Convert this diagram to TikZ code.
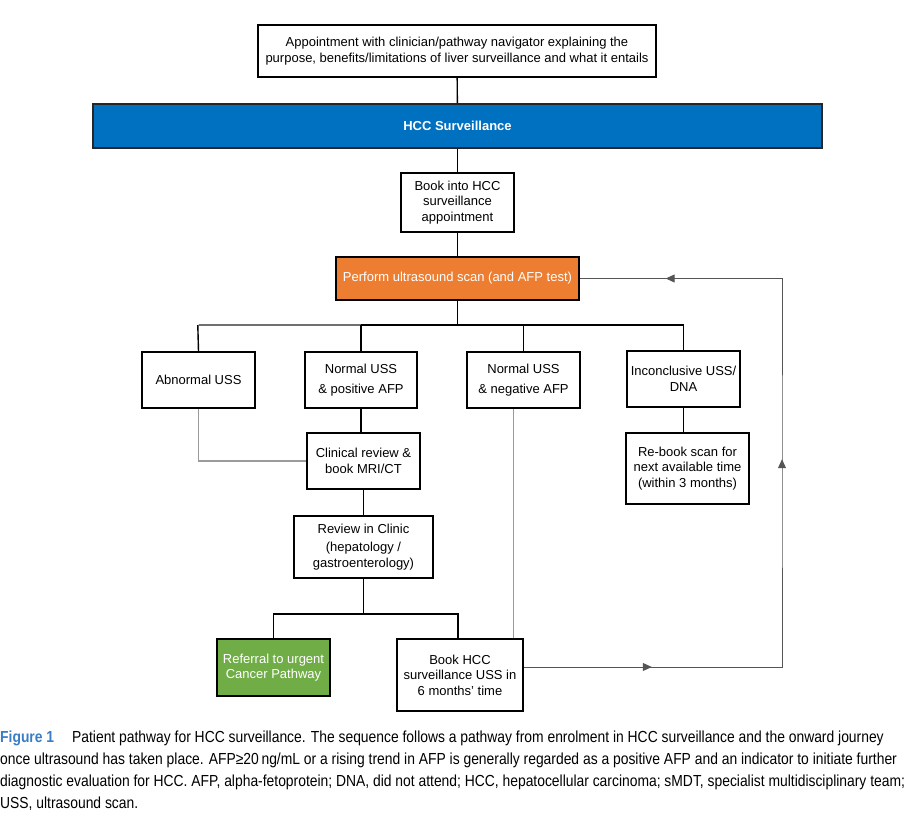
\documentclass[tikz,border=0pt]{standalone}
\usepackage{fontspec}
\setmainfont{Liberation Sans}
\newfontfamily\capfont[FakeStretch=0.867]{Liberation Sans}
\usetikzlibrary{arrows.meta,decorations.markings}
\definecolor{hccblue}{HTML}{0070C0}
\definecolor{hccorange}{HTML}{ED7D31}
\definecolor{hccgreen}{HTML}{70AD47}
\definecolor{figblue}{HTML}{3B7DC4}
\definecolor{lightline}{HTML}{9A9A9A}
\definecolor{midline}{HTML}{707070}
\definecolor{loopcol}{HTML}{555555}
\tikzset{
  box/.style={draw=black, line width=1.6pt, fill=white, inner sep=0pt, align=center,
    font=\fontsize{13}{15.5}\selectfont},
  bluebox/.style={box, fill=hccblue, draw=black!85, text=white, font=\fontsize{13}{15.5}\selectfont\bfseries},
  orangebox/.style={box, fill=hccorange, text=white},
  greenbox/.style={box, fill=hccgreen, text=white},
  link/.style={draw=black, line width=1.4pt},
  graylink/.style={draw=lightline, line width=1.2pt},
  midlink/.style={draw=midline, line width=1.2pt},
  looplink/.style={draw=loopcol, line width=1pt, postaction={decorate},
    decoration={markings,
      mark=at position 128pt with {\arrow{Triangle[length=9pt,width=8pt]}},
      mark=at position 466pt with {\arrow{Triangle[length=9pt,width=8pt]}},
      mark=at position 763pt with {\arrow{Triangle[length=9pt,width=8pt]}}}},
  capline/.style={anchor=west, inner sep=0pt, font=\capfont\fontsize{16}{18}\selectfont}
}
\begin{document}
\begin{tikzpicture}[x=1pt,y=-1pt]
\useasboundingbox (0,0) rectangle (906,822);
\fill[white] (0,0) rectangle (906,822);

\node[box, minimum width=398pt, minimum height=52pt] (top) at (457,51)
  {Appointment with clinician/pathway navigator explaining the\\purpose, benefits/limitations of liver surveillance and what it entails};
\node[bluebox, minimum width=729pt, minimum height=44pt] (surv) at (457.5,126) {HCC Surveillance};
\node[box, minimum width=113pt, minimum height=59pt] (book) at (457.5,202.5) {Book into HCC\\surveillance\\appointment};
\node[orangebox, minimum width=243pt, minimum height=43pt] (scan) at (457.5,278.5) {Perform ultrasound scan (and AFP test)};

\node[box, minimum width=113pt, minimum height=56pt] (abn) at (198.5,380) {Abnormal USS};
\node[box, minimum width=112pt, minimum height=56pt] (npos) at (361,380) {Normal USS\\[4pt]\& positive AFP};
\node[box, minimum width=113pt, minimum height=56pt] (nneg) at (523.5,380) {Normal USS\\[4pt]\& negative AFP};
\node[box, minimum width=113pt, minimum height=56pt] (inc) at (683.5,379) {Inconclusive USS/\\DNA};
\node[box, minimum width=123pt, minimum height=71pt] (rebook) at (687.5,468.5) {Re-book scan for\\next available time\\(within 3 months)};
\node[box, minimum width=113pt, minimum height=56pt] (clin) at (363.5,461) {Clinical review \&\\book MRI/CT};
\node[box, minimum width=139pt, minimum height=62pt] (review) at (363.5,547) {Review in Clinic\\[3pt](hepatology /\\gastroenterology)};
\node[greenbox, minimum width=113pt, minimum height=57pt] (refer) at (273.5,667.5) {Referral to urgent\\Cancer Pathway};
\node[box, minimum width=126pt, minimum height=72pt] (bookhcc) at (460,675) {Book HCC\\surveillance USS in\\6 months' time};

\coordinate (bus) at (457.5,325);
\coordinate (bus2) at (366,614);
\coordinate (loopR) at (782,470);

% connectors
\draw[link] (top) -- (surv);
\draw[link] (surv) -- (book);
\draw[link] (book) -- (scan);
\draw[link] (scan.south) -- (bus);
\draw[midlink] (abn.north |- bus) -- (npos.north |- bus);
\draw[link] (abn.north) -- ([xshift=-0.7pt]abn.north |- bus);
\draw[link] (npos.north |- bus) -- (inc.north |- bus) -- (inc.north);
\draw[link] (npos.north) -- (npos.north |- bus);
\draw[link] (nneg.north) -- (nneg.north |- bus);
\draw[link] (npos.south) -- (npos.south |- clin.north);
\draw[graylink] (abn.south) |- (clin.west);
\draw[link] (inc.south) -- (inc.south |- rebook.north);
\draw[link] (clin.south) -- (clin.south |- review.north);
\draw[link] (review.south) -- (review.south |- bus2);
\draw[link] (refer.north) |- (bus2) -| ([xshift=-2pt]bookhcc.north);
\draw[graylink] ([xshift=-10pt]nneg.south) -- ([xshift=-10pt]nneg.south |- bookhcc.north);
\draw[looplink] ([yshift=8pt]bookhcc.east) -| (loopR) |- (scan.east);

% caption
\node[capline] (cap1) at (0,738) {{\color{figblue}\bfseries Figure 1}\hspace{18pt}Patient pathway for HCC surveillance. The sequence follows a pathway from enrolment in HCC surveillance and the onward journey};
\node[capline] (cap2) at (0,760) {once ultrasound has taken place. AFP≥20\,ng/mL or a rising trend in AFP is generally regarded as a positive AFP and an indicator to initiate further};
\node[capline] (cap3) at (0,782) {diagnostic evaluation for HCC. AFP, alpha-fetoprotein; DNA, did not attend; HCC, hepatocellular carcinoma; sMDT, specialist multidisciplinary team;};
\node[capline] (cap4) at (0,804) {USS, ultrasound scan.};
\end{tikzpicture}
\end{document}
